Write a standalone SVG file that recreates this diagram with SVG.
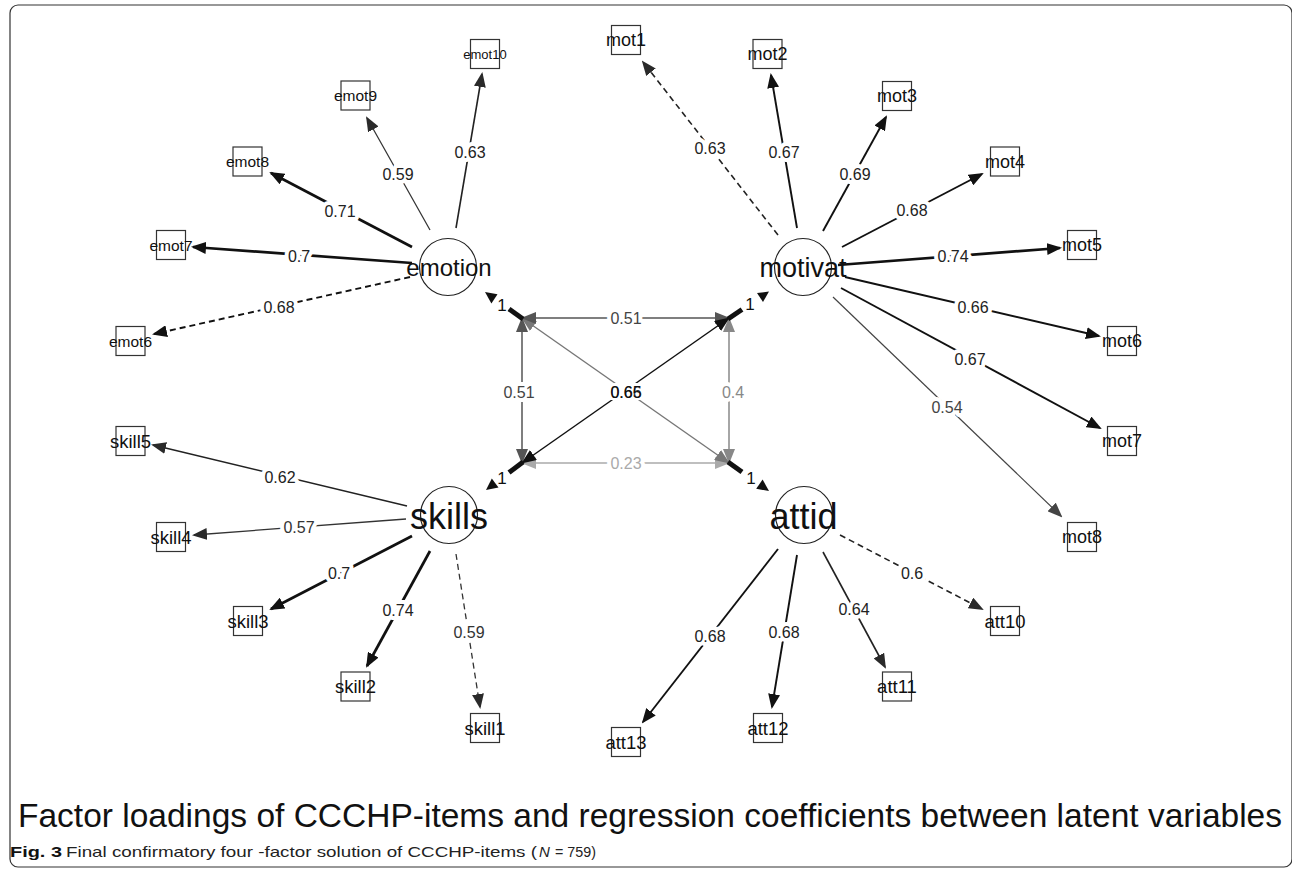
<svg xmlns="http://www.w3.org/2000/svg" width="1292" height="869" viewBox="0 0 1292 869">
<style>
.box{fill:#fff;stroke:#333;stroke-width:1.2}
.lat{fill:none;stroke:#222;stroke-width:1.2}
.t{font-family:"Liberation Sans",Arial,Helvetica,sans-serif;fill:#111;text-anchor:middle}
.lbl{font-family:"Liberation Sans",Arial,Helvetica,sans-serif;font-size:16px;text-anchor:middle;fill:#222;stroke:#fff;stroke-width:8px;paint-order:stroke;stroke-linejoin:round}
.e{fill:none}
.s1{stroke:#111;stroke-width:2.7}
.s2{stroke:#111;stroke-width:1.9}
.s3{stroke:#222;stroke-width:1.6}
.s4{stroke:#333;stroke-width:1.3}
.s5{stroke:#444;stroke-width:1.2}
.d{stroke-dasharray:6,4}
</style>
<defs>
<marker id="ak" viewBox="0 0 15 12" markerWidth="15" markerHeight="12" refX="13" refY="6" markerUnits="userSpaceOnUse" orient="auto"><path d="M0,0L15,6L0,12z" fill="#111"/></marker>
<marker id="ad" viewBox="0 0 15 12" markerWidth="15" markerHeight="12" refX="13" refY="6" markerUnits="userSpaceOnUse" orient="auto"><path d="M0,0L15,6L0,12z" fill="#2a2a2a"/></marker>
<marker id="ag" viewBox="0 0 15 12" markerWidth="15" markerHeight="12" refX="13" refY="6" markerUnits="userSpaceOnUse" orient="auto"><path d="M0,0L15,6L0,12z" fill="#444"/></marker>
<marker id="c1" viewBox="0 0 15 12" markerWidth="15" markerHeight="12" refX="14" refY="6" markerUnits="userSpaceOnUse" orient="auto-start-reverse"><path d="M0,0L15,6L0,12z" fill="#555"/></marker>
<marker id="c2" viewBox="0 0 15 12" markerWidth="15" markerHeight="12" refX="14" refY="6" markerUnits="userSpaceOnUse" orient="auto-start-reverse"><path d="M0,0L15,6L0,12z" fill="#777"/></marker>
<marker id="c3" viewBox="0 0 15 12" markerWidth="15" markerHeight="12" refX="14" refY="6" markerUnits="userSpaceOnUse" orient="auto-start-reverse"><path d="M0,0L15,6L0,12z" fill="#888"/></marker>
<marker id="c4" viewBox="0 0 15 12" markerWidth="15" markerHeight="12" refX="14" refY="6" markerUnits="userSpaceOnUse" orient="auto-start-reverse"><path d="M0,0L15,6L0,12z" fill="#aaa"/></marker>
<marker id="c5" viewBox="0 0 15 12" markerWidth="15" markerHeight="12" refX="14" refY="6" markerUnits="userSpaceOnUse" orient="auto-start-reverse"><path d="M0,0L15,6L0,12z" fill="#111"/></marker>
</defs>
<rect x="0" y="0" width="1292" height="869" fill="#fff"/>
<rect x="10" y="5" width="1282" height="862" rx="8" fill="none" stroke="#333" stroke-width="1.2"/>

<g id="connectors">
<!-- covariances -->
<line class="e" x1="729" y1="463" x2="522" y2="463" stroke="#aaa" stroke-width="1.5" marker-start="url(#c4)" marker-end="url(#c4)"/>
<line class="e" x1="729" y1="463" x2="729" y2="318" stroke="#888" stroke-width="1.5" marker-start="url(#c3)" marker-end="url(#c3)"/>
<line class="e" x1="729" y1="463" x2="522" y2="318" stroke="#777" stroke-width="1.4" marker-start="url(#c2)" marker-end="url(#c2)"/>
<line class="e" x1="729" y1="318" x2="522" y2="318" stroke="#555" stroke-width="1.5" marker-start="url(#c1)" marker-end="url(#c1)"/>
<line class="e" x1="522" y1="463" x2="522" y2="318" stroke="#555" stroke-width="1.5" marker-start="url(#c1)" marker-end="url(#c1)"/>
<line class="e" x1="729" y1="318" x2="522" y2="463" stroke="#111" stroke-width="1.5" marker-start="url(#c5)" marker-end="url(#c5)"/>
<text class="lbl" x="626" y="323.7" style="fill:#444">0.51</text>
<text class="lbl" x="519" y="397.7" style="fill:#444">0.51</text>
<text class="lbl" x="733" y="397.7" style="fill:#888">0.4</text>
<text class="lbl" x="626" y="468.7" style="fill:#aaa">0.23</text>
<rect x="609" y="383" width="34" height="17" fill="#fff"/>
<text class="t" x="626" y="397.7" font-size="16" style="fill:#333">0.66</text>
<text class="t" x="626" y="397.7" font-size="16" style="fill:#111">0.65</text>
<!-- variances (1) -->
<g fill="#111" stroke="#111">
<line x1="523" y1="319" x2="509" y2="309" stroke-width="5"/>
<polygon points="485,292 497.5,294.2 491.4,303.6" stroke="none"/>
<line x1="728" y1="319" x2="742" y2="309.5" stroke-width="5"/>
<polygon points="769,291.5 763,302 757,293" stroke="none"/>
<line x1="523" y1="462" x2="509" y2="472.5" stroke-width="5"/>
<polygon points="486,490 491.8,478.6 498.5,487.6" stroke="none"/>
<line x1="728" y1="462" x2="742" y2="472" stroke-width="5"/>
<polygon points="769,491 756.2,488.8 762.6,479.6" stroke="none"/>
</g>
<text class="t" x="502" y="311" font-size="17">1</text>
<text class="t" x="750" y="310" font-size="17">1</text>
<text class="t" x="502" y="484" font-size="17">1</text>
<text class="t" x="751" y="484" font-size="17">1</text>

<!-- emotion loadings -->
<line class="e s3" x1="456" y1="228" x2="482" y2="74" marker-end="url(#ad)"/>
<line class="e s4" x1="430" y1="230" x2="367" y2="118" marker-end="url(#ad)"/>
<line class="e s1" x1="412" y1="247" x2="271" y2="173" marker-end="url(#ak)"/>
<line class="e s1" x1="412" y1="263" x2="193" y2="247" marker-end="url(#ak)"/>
<line class="e s2 d" x1="410" y1="277" x2="154" y2="334" marker-end="url(#ak)"/>
<text class="lbl" x="470" y="157.7">0.63</text>
<text class="lbl" x="398" y="179.7">0.59</text>
<text class="lbl" x="340" y="216.7">0.71</text>
<text class="lbl" x="299" y="261.7">0.7</text>
<text class="lbl" x="279" y="312.7">0.68</text>

<!-- motivat loadings -->
<line class="e s3 d" x1="778" y1="235" x2="643" y2="62" marker-end="url(#ad)"/>
<line class="e s2" x1="797" y1="228" x2="771" y2="75" marker-end="url(#ak)"/>
<line class="e s2" x1="823" y1="231" x2="886" y2="117" marker-end="url(#ak)"/>
<line class="e s2" x1="842" y1="247" x2="982" y2="174" marker-end="url(#ak)"/>
<line class="e s1" x1="838" y1="265" x2="1060" y2="248" marker-end="url(#ak)"/>
<line class="e s2" x1="845" y1="277" x2="1099" y2="336" marker-end="url(#ak)"/>
<line class="e s2" x1="841" y1="288" x2="1100" y2="428" marker-end="url(#ak)"/>
<line class="e s5" x1="833" y1="297" x2="1061" y2="516" marker-end="url(#ag)"/>
<text class="lbl" x="710" y="153.7">0.63</text>
<text class="lbl" x="784" y="157.7">0.67</text>
<text class="lbl" x="855" y="179.7">0.69</text>
<text class="lbl" x="912" y="215.7">0.68</text>
<text class="lbl" x="953" y="261.7">0.74</text>
<text class="lbl" x="973" y="312.7">0.66</text>
<text class="lbl" x="970" y="364.7">0.67</text>
<text class="lbl" x="947" y="412.7" style="fill:#444">0.54</text>

<!-- skills loadings -->
<line class="e s3" x1="407" y1="506" x2="153" y2="445" marker-end="url(#ad)"/>
<line class="e s4" x1="406" y1="519" x2="194" y2="535" marker-end="url(#ad)"/>
<line class="e s1" x1="412" y1="536" x2="271" y2="609" marker-end="url(#ak)"/>
<line class="e s1" x1="430" y1="551" x2="367" y2="666" marker-end="url(#ak)"/>
<line class="e s4 d" x1="456" y1="554" x2="480" y2="707" marker-end="url(#ad)"/>
<text class="lbl" x="280" y="482.7">0.62</text>
<text class="lbl" x="299" y="532.7" style="fill:#333">0.57</text>
<text class="lbl" x="339" y="578.7">0.7</text>
<text class="lbl" x="398" y="615.7">0.74</text>
<text class="lbl" x="469" y="637.7" style="fill:#333">0.59</text>

<!-- attid loadings -->
<line class="e s3 d" x1="840" y1="535" x2="982" y2="609" marker-end="url(#ad)"/>
<line class="e s3" x1="823" y1="552" x2="885" y2="667" marker-end="url(#ad)"/>
<line class="e s2" x1="797" y1="555" x2="772" y2="707" marker-end="url(#ak)"/>
<line class="e s2" x1="778" y1="549" x2="643" y2="722" marker-end="url(#ak)"/>
<text class="lbl" x="912" y="578.7">0.6</text>
<text class="lbl" x="854" y="614.7">0.64</text>
<text class="lbl" x="784" y="637.7">0.68</text>
<text class="lbl" x="710" y="641.7">0.68</text>
</g>

<!-- latent variables -->
<g id="emotion"><circle class="lat" cx="448" cy="267" r="28.5"/><text class="t" x="449" y="276" font-size="24">emotion</text></g>
<g id="motivat"><circle class="lat" cx="803" cy="267" r="28.5"/><text class="t" x="803" y="276.5" font-size="27">motivat</text></g>
<g id="skills"><circle class="lat" cx="449" cy="515" r="28.5"/><text class="t" x="449" y="528.5" font-size="36">skills</text></g>
<g id="attid"><circle class="lat" cx="804" cy="515" r="28.5"/><text class="t" x="803.5" y="528.5" font-size="36">attid</text></g>

<!-- indicators -->
<g id="emot10"><rect class="box" x="470.5" y="39.5" width="29" height="29"/><text class="t" x="485" y="58.7" font-size="13">emot10</text></g>
<g id="emot9"><rect class="box" x="341" y="81" width="29" height="29"/><text class="t" x="355.5" y="101" font-size="15.5">emot9</text></g>
<g id="emot8"><rect class="box" x="233" y="147" width="29" height="29"/><text class="t" x="247.5" y="167" font-size="15.5">emot8</text></g>
<g id="emot7"><rect class="box" x="156.5" y="230.5" width="29" height="29"/><text class="t" x="171" y="250.5" font-size="15.5">emot7</text></g>
<g id="emot6"><rect class="box" x="116" y="326.5" width="29" height="29"/><text class="t" x="130.5" y="346.5" font-size="15.5">emot6</text></g>

<g id="mot1"><rect class="box" x="611.5" y="25.5" width="29" height="29"/><text class="t" x="626" y="46.4" font-size="18">mot1</text></g>
<g id="mot2"><rect class="box" x="753" y="39.5" width="29" height="29"/><text class="t" x="767.5" y="60.4" font-size="18">mot2</text></g>
<g id="mot3"><rect class="box" x="882.5" y="81.5" width="29" height="29"/><text class="t" x="897" y="102.4" font-size="18">mot3</text></g>
<g id="mot4"><rect class="box" x="990.5" y="147" width="29" height="29"/><text class="t" x="1005" y="167.9" font-size="18">mot4</text></g>
<g id="mot5"><rect class="box" x="1067.5" y="230.5" width="29" height="29"/><text class="t" x="1082" y="251.4" font-size="18">mot5</text></g>
<g id="mot6"><rect class="box" x="1107.5" y="326.5" width="29" height="29"/><text class="t" x="1122" y="347.4" font-size="18">mot6</text></g>
<g id="mot7"><rect class="box" x="1107.5" y="426.5" width="29" height="29"/><text class="t" x="1122" y="447.4" font-size="18">mot7</text></g>
<g id="mot8"><rect class="box" x="1067.5" y="522.5" width="29" height="29"/><text class="t" x="1082" y="543.4" font-size="18">mot8</text></g>

<g id="skill5"><rect class="box" x="116" y="426.5" width="29" height="29"/><text class="t" x="130.5" y="447.5" font-size="18.5">skill5</text></g>
<g id="skill4"><rect class="box" x="156.5" y="522.5" width="29" height="29"/><text class="t" x="171" y="543.5" font-size="18.5">skill4</text></g>
<g id="skill3"><rect class="box" x="233.5" y="606.5" width="29" height="29"/><text class="t" x="248" y="627.5" font-size="18.5">skill3</text></g>
<g id="skill2"><rect class="box" x="341" y="672" width="29" height="29"/><text class="t" x="355.5" y="693" font-size="18.5">skill2</text></g>
<g id="skill1"><rect class="box" x="470.5" y="713.5" width="29" height="29"/><text class="t" x="485" y="734.5" font-size="18.5">skill1</text></g>

<g id="att10"><rect class="box" x="990.5" y="606.5" width="29" height="29"/><text class="t" x="1005" y="627.5" font-size="18.5">att10</text></g>
<g id="att11"><rect class="box" x="882.5" y="672" width="29" height="29"/><text class="t" x="897" y="693" font-size="18.5">att11</text></g>
<g id="att12"><rect class="box" x="753.5" y="713.5" width="29" height="29"/><text class="t" x="768" y="734.5" font-size="18.5">att12</text></g>
<g id="att13"><rect class="box" x="611.5" y="727.5" width="29" height="29"/><text class="t" x="626" y="748.5" font-size="18.5">att13</text></g>

<!-- captions -->
<text x="18" y="827" font-family="'Liberation Sans',Arial,sans-serif" font-size="33.5" fill="#111" textLength="1264" lengthAdjust="spacingAndGlyphs">Factor loadings of CCCHP-items and regression coefficients between latent variables</text>
<text x="10" y="857" font-family="'Liberation Sans',Arial,sans-serif" font-size="15" font-weight="bold" fill="#111" textLength="52" lengthAdjust="spacingAndGlyphs">Fig. 3</text>
<text x="66" y="857" font-family="'Liberation Sans',Arial,sans-serif" font-size="15" fill="#222" textLength="471" lengthAdjust="spacingAndGlyphs">Final confirmatory four -factor solution of CCCHP-items (</text>
<text x="539" y="857" font-family="'Liberation Sans',Arial,sans-serif" font-size="15" font-style="italic" fill="#222">N</text>
<text x="555" y="857" font-family="'Liberation Sans',Arial,sans-serif" font-size="15" fill="#222" textLength="41" lengthAdjust="spacingAndGlyphs">= 759)</text>
</svg>
